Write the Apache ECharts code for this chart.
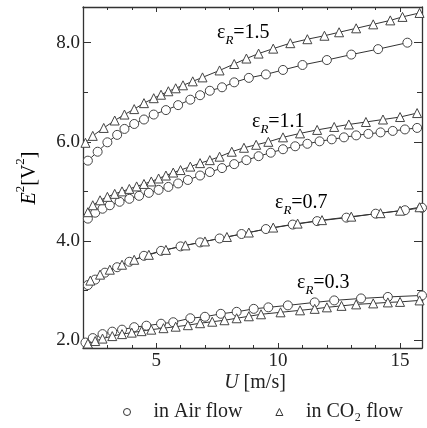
<!DOCTYPE html>
<html><head><meta charset="utf-8">
<script src="https://cdn.jsdelivr.net/npm/echarts@6/dist/echarts.min.js"></script>
<style>html,body{margin:0;padding:0;background:#fff}#c{width:427px;height:428px}</style>
</head><body><div id="c"></div>
<script>
// ---- data: [U (m/s), E^2 (V^2)] ----
const air15 = [[2.2,5.62],[2.6,5.80],[3.0,5.99],[3.4,6.14],[3.7,6.26],[4.1,6.36],[4.5,6.45],[4.9,6.55],[5.4,6.64],[5.9,6.74],[6.4,6.85],[6.8,6.94],[7.2,7.03],[7.7,7.10],[8.2,7.20],[8.8,7.29],[9.5,7.36],[10.2,7.45],[11.0,7.55],[12.0,7.65],[13.0,7.76],[14.1,7.87],[15.3,8.00]];
const co215 = [[2.1,5.98],[2.4,6.12],[2.85,6.28],[3.3,6.43],[3.7,6.55],[4.1,6.66],[4.5,6.78],[4.9,6.88],[5.2,6.95],[5.5,7.02],[5.8,7.08],[6.1,7.14],[6.5,7.22],[6.9,7.30],[7.6,7.44],[8.2,7.57],[8.7,7.68],[9.2,7.78],[9.8,7.88],[10.5,7.99],[11.2,8.07],[11.9,8.14],[12.5,8.21],[13.2,8.29],[13.9,8.37],[14.6,8.45],[15.1,8.52],[15.8,8.60]];
const air11 = [[2.2,4.45],[2.5,4.57],[2.8,4.65],[3.1,4.72],[3.5,4.79],[3.9,4.85],[4.3,4.91],[4.7,4.97],[5.1,5.03],[5.5,5.09],[5.9,5.16],[6.3,5.23],[6.8,5.32],[7.2,5.39],[7.7,5.47],[8.2,5.55],[8.7,5.63],[9.2,5.71],[9.7,5.78],[10.2,5.85],[10.7,5.91],[11.2,5.96],[11.7,6.01],[12.2,6.05],[12.7,6.09],[13.2,6.13],[13.7,6.16],[14.2,6.19],[14.7,6.22],[15.2,6.25],[15.7,6.28]];
const co211 = [[2.2,4.58],[2.4,4.72],[2.7,4.82],[3.0,4.89],[3.3,4.95],[3.6,5.00],[3.9,5.05],[4.2,5.10],[4.5,5.15],[4.8,5.20],[5.1,5.26],[5.4,5.32],[5.7,5.38],[6.0,5.43],[6.4,5.50],[6.8,5.57],[7.2,5.63],[7.6,5.70],[8.1,5.80],[8.6,5.88],[9.1,5.94],[9.6,6.00],[10.2,6.09],[10.9,6.17],[11.6,6.24],[12.3,6.30],[12.9,6.35],[13.6,6.40],[14.3,6.45],[15.0,6.50],[15.7,6.58]];
const air07 = [[2.2,3.11],[2.5,3.22],[2.9,3.36],[3.4,3.47],[3.9,3.58],[4.5,3.70],[5.2,3.80],[6.0,3.89],[6.8,3.97],[7.6,4.05],[8.5,4.14],[9.5,4.24],[10.6,4.33],[11.6,4.40],[12.8,4.47],[14.0,4.55],[15.2,4.62],[15.9,4.67]];
const co207 = [[2.3,3.20],[2.7,3.32],[3.1,3.42],[3.6,3.52],[4.1,3.62],[4.7,3.72],[5.4,3.82],[6.2,3.91],[7.0,3.99],[7.9,4.08],[8.8,4.17],[9.8,4.27],[10.8,4.35],[11.8,4.42],[13.0,4.49],[14.2,4.56],[15.0,4.61],[15.8,4.68]];
const air03 = [[2.1,1.95],[2.4,2.04],[2.8,2.12],[3.2,2.17],[3.6,2.21],[4.1,2.26],[4.6,2.29],[5.2,2.33],[5.7,2.36],[6.4,2.44],[7.0,2.47],[7.65,2.53],[8.3,2.57],[9.0,2.63],[9.6,2.66],[10.4,2.70],[11.5,2.76],[12.3,2.80],[13.4,2.84],[14.5,2.87],[15.9,2.90]];
const co203 = [[2.2,1.93],[2.5,1.98],[2.8,2.03],[3.2,2.08],[3.6,2.12],[4.0,2.15],[4.4,2.18],[4.8,2.21],[5.3,2.24],[5.8,2.27],[6.3,2.30],[6.8,2.34],[7.3,2.37],[7.8,2.40],[8.3,2.44],[8.8,2.48],[9.3,2.52],[10.1,2.56],[10.9,2.60],[11.5,2.63],[12.0,2.66],[12.6,2.69],[13.2,2.72],[13.9,2.74],[14.5,2.76],[15.0,2.77],[15.8,2.80]];

const xMajor = [5,10,15];
const xMinor = [3,4,6,7,8,9,11,12,13,14];
const yMajor = [2,4,6,8];
const yMinor = [3,5,7];
const epsLabels = ['1.5','1.1','0.7','0.3'];
const airName = 'in Air flow', co2Name = 'in CO\u2082 flow';

const FONT = '"Liberation Serif","Times New Roman",serif';
const INK = '#333';
const X_MIN = 2, X_MAX = 15.9, Y_MIN = 1.84, Y_MAX = 8.72;
const rect = {left:83, top:7, right:5, bottom:80};

function xAx(gi, pos, ticks, len, labels, line){
  return {type:'value', gridIndex:gi, position:pos, min:X_MIN, max:X_MAX,
    splitLine:{show:false},
    axisLine:{show:line, onZero:false, lineStyle:{color:INK,width:1.3}},
    axisTick:{show:true, inside:true, length:len, customValues:ticks, lineStyle:{color:INK,width:1}},
    axisLabel:{show:labels, customValues:xMajor, margin:4, color:'#222', fontSize:19, fontFamily:FONT}};
}
function yAx(gi, pos, ticks, len, labels, line){
  return {type:'value', gridIndex:gi, position:pos, min:Y_MIN, max:Y_MAX,
    splitLine:{show:false},
    axisLine:{show:line, onZero:false, lineStyle:{color:INK,width:1.3}},
    axisTick:{show:true, inside:true, length:len, customValues:ticks, lineStyle:{color:INK,width:1}},
    axisLabel:{show:labels, customValues:yMajor, margin:3, color:'#222', fontSize:19, fontFamily:FONT,
      formatter:v=>Number(v).toFixed(1)}};
}
function ser(name, data, sym, size){
  return {type:'line', name, data, xAxisIndex:0, yAxisIndex:0, symbol:sym, symbolSize:size,
    showSymbol:true, showAllSymbol:true, smooth:false,
    lineStyle:{color:INK, width:1},
    itemStyle:{color:'#fff', borderColor:'#444', borderWidth:1},
    emphasis:{disabled:true}, z:3};
}
function eps(val, x, y){
  const base = {fontSize:20, fontFamily:FONT, color:'#222', verticalAlign:'bottom', padding:[0,0,4,0]};
  return {type:'text', x, y, z:10, style:{text:'{e|\u03b5}{r|R}{t|='+val+'}',
    rich:{e:base, t:base, r:{fontSize:13, fontStyle:'italic', fontFamily:FONT, color:'#222', verticalAlign:'bottom'}}}};
}

const chart = echarts.init(document.getElementById('c'), null, {renderer:'canvas'});
const nrm = {fontSize:20, fontFamily:FONT, color:'#222', verticalAlign:'bottom', padding:[6,0,0,0]};
chart.setOption({
  animation:false,
  backgroundColor:'#fff',
  grid:[Object.assign({}, rect), Object.assign({}, rect)],
  xAxis:[xAx(0,'bottom',xMajor,5,true,true), xAx(0,'top',xMajor,5,false,true),
         xAx(1,'bottom',xMinor,3,false,false), xAx(1,'top',xMinor,3,false,false)],
  yAxis:[yAx(0,'left',yMajor,8,true,true), yAx(0,'right',yMajor,8,false,true),
         yAx(1,'left',yMinor,5,false,false), yAx(1,'right',yMinor,5,false,false)],
  legend:{bottom:1, left:118, itemWidth:7, itemHeight:7, itemGap:33,
    itemStyle:{color:'#fff', borderColor:'#333', borderWidth:1},
    textStyle:{fontSize:20, fontFamily:FONT, color:'#222', padding:[0,0,0,18]},
    data:[{name:airName, icon:'circle'},{name:co2Name, icon:'triangle'}]},
  series:[
    ser(airName, air15, 'circle', 9), ser(co2Name, co215, 'triangle', 9),
    ser(airName, air11, 'circle', 9), ser(co2Name, co211, 'triangle', 9),
    ser(airName, air07, 'circle', 9), ser(co2Name, co207, 'triangle', 9),
    ser(airName, air03, 'circle', 9), ser(co2Name, co203, 'triangle', 9)
  ],
  graphic:[
    eps(epsLabels[0], 217, 23), eps(epsLabels[1], 252, 112),
    eps(epsLabels[2], 275, 193), eps(epsLabels[3], 297, 273),
    {type:'text', x:255, y:383, style:{text:'{i|U} [m/s]', align:'center', verticalAlign:'middle',
      rich:{i:{fontStyle:'italic', fontSize:20, fontFamily:FONT, color:'#222'}},
      fontSize:20, fontFamily:FONT, fill:'#222'}},
    {type:'text', x:27, y:178, rotation:Math.PI/2, style:{
      text:'{i|E}{s|2}{n|[V}{s|2}{n|]}', align:'center', verticalAlign:'middle',
      rich:{i:Object.assign({}, nrm, {fontStyle:'italic'}), n:nrm,
            s:{fontSize:13, fontFamily:FONT, color:'#222', verticalAlign:'top'}}}}
  ]
});
</script></body></html>
